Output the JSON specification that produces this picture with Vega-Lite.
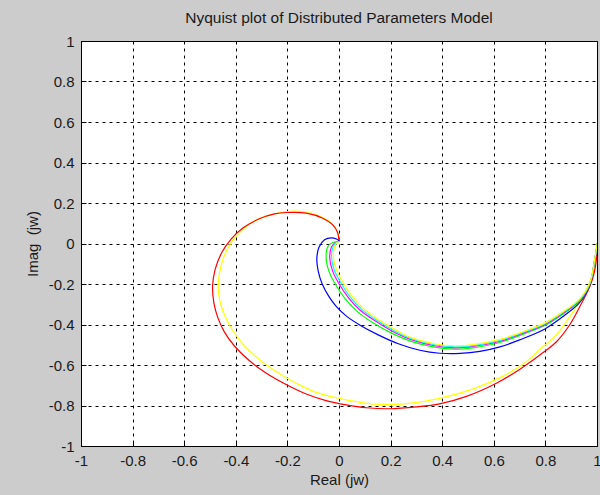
{
  "$schema": "https://vega.github.io/schema/vega-lite/v6.json",
  "width": 516,
  "height": 405,
  "autosize": {"type": "none"},
  "padding": {"left": 81, "top": 41, "right": 3, "bottom": 49},
  "background": "#cccccc",
  "title": {"text": "Nyquist plot of Distributed Parameters Model", "fontSize": 15.5, "fontWeight": "normal", "font": "Liberation Sans", "color": "#1a1a1a", "offset": 8},
  "config": {
    "view": {"fill": "white", "stroke": "black", "strokeWidth": 1},
    "axis": {
      "labelFont": "Liberation Sans", "labelFontSize": 15, "labelColor": "#1a1a1a", "labelFlush": false,
      "titleFont": "Liberation Sans", "titleFontSize": 15, "titleFontWeight": "normal", "titleColor": "#1a1a1a",
      "domainColor": "black", "tickColor": "black", "tickSize": -5, "labelPadding": 12,
      "gridColor": "black", "gridDash": [3, 4], "gridOpacity": 1, "gridWidth": 1
    }
  },
  "data": {"values": [
{"s":"yellow","i":0,"x":1,"y":0},{"s":"yellow","i":1,"x":0.999,"y":-0.05},{"s":"yellow","i":2,"x":0.99,"y":-0.12},{"s":"yellow","i":3,"x":0.975,"y":-0.18},{"s":"yellow","i":4,"x":0.947,"y":-0.26},{"s":"yellow","i":5,"x":0.895,"y":-0.36},{"s":"yellow","i":6,"x":0.843,"y":-0.45},{"s":"yellow","i":7,"x":0.79,"y":-0.51},{"s":"yellow","i":8,"x":0.714,"y":-0.595},{"s":"yellow","i":9,"x":0.636,"y":-0.655},{"s":"yellow","i":10,"x":0.52,"y":-0.718},{"s":"yellow","i":11,"x":0.39,"y":-0.765},{"s":"yellow","i":12,"x":0.28,"y":-0.788},{"s":"yellow","i":13,"x":0.157,"y":-0.795},{"s":"yellow","i":14,"x":0.028,"y":-0.772},{"s":"yellow","i":15,"x":-0.089,"y":-0.735},{"s":"yellow","i":16,"x":-0.166,"y":-0.69},{"s":"yellow","i":17,"x":-0.244,"y":-0.632},{"s":"yellow","i":18,"x":-0.309,"y":-0.573},{"s":"yellow","i":19,"x":-0.374,"y":-0.495},{"s":"yellow","i":20,"x":-0.419,"y":-0.415},{"s":"yellow","i":21,"x":-0.451,"y":-0.33},{"s":"yellow","i":22,"x":-0.467,"y":-0.245},{"s":"yellow","i":23,"x":-0.465,"y":-0.16},{"s":"yellow","i":24,"x":-0.448,"y":-0.07},{"s":"yellow","i":25,"x":-0.412,"y":0.015},{"s":"yellow","i":26,"x":-0.348,"y":0.095},{"s":"yellow","i":27,"x":-0.283,"y":0.135},{"s":"yellow","i":28,"x":-0.2,"y":0.158},{"s":"yellow","i":29,"x":-0.13,"y":0.155},{"s":"yellow","i":30,"x":-0.076,"y":0.135},{"s":"yellow","i":31,"x":-0.03,"y":0.1},{"s":"yellow","i":32,"x":-0.005,"y":0.055},{"s":"yellow","i":33,"x":0,"y":0.005},
{"s":"red","i":0,"x":1,"y":0},{"s":"red","i":1,"x":0.999,"y":-0.063},{"s":"red","i":2,"x":0.99,"y":-0.14},{"s":"red","i":3,"x":0.973,"y":-0.21},{"s":"red","i":4,"x":0.934,"y":-0.31},{"s":"red","i":5,"x":0.895,"y":-0.4},{"s":"red","i":6,"x":0.843,"y":-0.485},{"s":"red","i":7,"x":0.79,"y":-0.54},{"s":"red","i":8,"x":0.7,"y":-0.622},{"s":"red","i":9,"x":0.61,"y":-0.69},{"s":"red","i":10,"x":0.494,"y":-0.755},{"s":"red","i":11,"x":0.39,"y":-0.792},{"s":"red","i":12,"x":0.3,"y":-0.807},{"s":"red","i":13,"x":0.196,"y":-0.816},{"s":"red","i":14,"x":0.106,"y":-0.811},{"s":"red","i":15,"x":0.028,"y":-0.797},{"s":"red","i":16,"x":-0.05,"y":-0.776},{"s":"red","i":17,"x":-0.127,"y":-0.743},{"s":"red","i":18,"x":-0.205,"y":-0.696},{"s":"red","i":19,"x":-0.283,"y":-0.639},{"s":"red","i":20,"x":-0.348,"y":-0.578},{"s":"red","i":21,"x":-0.406,"y":-0.505},{"s":"red","i":22,"x":-0.445,"y":-0.435},{"s":"red","i":23,"x":-0.47,"y":-0.365},{"s":"red","i":24,"x":-0.485,"y":-0.293},{"s":"red","i":25,"x":-0.49,"y":-0.211},{"s":"red","i":26,"x":-0.48,"y":-0.128},{"s":"red","i":27,"x":-0.455,"y":-0.046},{"s":"red","i":28,"x":-0.419,"y":0.02},{"s":"red","i":29,"x":-0.374,"y":0.075},{"s":"red","i":30,"x":-0.309,"y":0.122},{"s":"red","i":31,"x":-0.25,"y":0.146},{"s":"red","i":32,"x":-0.205,"y":0.153},{"s":"red","i":33,"x":-0.127,"y":0.15},{"s":"red","i":34,"x":-0.063,"y":0.125},{"s":"red","i":35,"x":-0.024,"y":0.092},{"s":"red","i":36,"x":-0.005,"y":0.053},{"s":"red","i":37,"x":0,"y":0.011},
{"s":"blue","i":0,"x":1,"y":0},{"s":"blue","i":1,"x":0.999,"y":-0.02},{"s":"blue","i":2,"x":0.99,"y":-0.09},{"s":"blue","i":3,"x":0.973,"y":-0.2},{"s":"blue","i":4,"x":0.934,"y":-0.29},{"s":"blue","i":5,"x":0.869,"y":-0.36},{"s":"blue","i":6,"x":0.798,"y":-0.422},{"s":"blue","i":7,"x":0.7,"y":-0.476},{"s":"blue","i":8,"x":0.62,"y":-0.512},{"s":"blue","i":9,"x":0.546,"y":-0.533},{"s":"blue","i":10,"x":0.47,"y":-0.543},{"s":"blue","i":11,"x":0.39,"y":-0.542},{"s":"blue","i":12,"x":0.313,"y":-0.527},{"s":"blue","i":13,"x":0.23,"y":-0.495},{"s":"blue","i":14,"x":0.15,"y":-0.45},{"s":"blue","i":15,"x":0.08,"y":-0.402},{"s":"blue","i":16,"x":0.03,"y":-0.36},{"s":"blue","i":17,"x":-0.01,"y":-0.312},{"s":"blue","i":18,"x":-0.04,"y":-0.26},{"s":"blue","i":19,"x":-0.065,"y":-0.2},{"s":"blue","i":20,"x":-0.08,"y":-0.14},{"s":"blue","i":21,"x":-0.086,"y":-0.079},{"s":"blue","i":22,"x":-0.078,"y":-0.02},{"s":"blue","i":23,"x":-0.056,"y":0.018},{"s":"blue","i":24,"x":-0.03,"y":0.028},{"s":"blue","i":25,"x":-0.01,"y":0.022},{"s":"blue","i":26,"x":0.002,"y":0.011},
{"s":"green","i":0,"x":1,"y":0},{"s":"green","i":1,"x":0.999,"y":-0.02},{"s":"green","i":2,"x":0.99,"y":-0.09},{"s":"green","i":3,"x":0.973,"y":-0.198},{"s":"green","i":4,"x":0.934,"y":-0.283},{"s":"green","i":5,"x":0.869,"y":-0.348},{"s":"green","i":6,"x":0.798,"y":-0.405},{"s":"green","i":7,"x":0.72,"y":-0.445},{"s":"green","i":8,"x":0.62,"y":-0.49},{"s":"green","i":9,"x":0.52,"y":-0.515},{"s":"green","i":10,"x":0.45,"y":-0.522},{"s":"green","i":11,"x":0.37,"y":-0.512},{"s":"green","i":12,"x":0.28,"y":-0.483},{"s":"green","i":13,"x":0.2,"y":-0.44},{"s":"green","i":14,"x":0.13,"y":-0.39},{"s":"green","i":15,"x":0.07,"y":-0.335},{"s":"green","i":16,"x":0.025,"y":-0.275},{"s":"green","i":17,"x":-0.01,"y":-0.21},{"s":"green","i":18,"x":-0.038,"y":-0.14},{"s":"green","i":19,"x":-0.05,"y":-0.07},{"s":"green","i":20,"x":-0.043,"y":-0.015},{"s":"green","i":21,"x":-0.024,"y":0.005},{"s":"green","i":22,"x":0,"y":0.008},
{"s":"magenta","i":0,"x":1,"y":0},{"s":"magenta","i":1,"x":0.999,"y":-0.018},{"s":"magenta","i":2,"x":0.99,"y":-0.088},{"s":"magenta","i":3,"x":0.973,"y":-0.195},{"s":"magenta","i":4,"x":0.934,"y":-0.279},{"s":"magenta","i":5,"x":0.869,"y":-0.343},{"s":"magenta","i":6,"x":0.798,"y":-0.4},{"s":"magenta","i":7,"x":0.72,"y":-0.44},{"s":"magenta","i":8,"x":0.62,"y":-0.484},{"s":"magenta","i":9,"x":0.52,"y":-0.508},{"s":"magenta","i":10,"x":0.45,"y":-0.515},{"s":"magenta","i":11,"x":0.37,"y":-0.505},{"s":"magenta","i":12,"x":0.28,"y":-0.475},{"s":"magenta","i":13,"x":0.205,"y":-0.432},{"s":"magenta","i":14,"x":0.14,"y":-0.382},{"s":"magenta","i":15,"x":0.08,"y":-0.327},{"s":"magenta","i":16,"x":0.037,"y":-0.268},{"s":"magenta","i":17,"x":0.003,"y":-0.205},{"s":"magenta","i":18,"x":-0.025,"y":-0.135},{"s":"magenta","i":19,"x":-0.036,"y":-0.07},{"s":"magenta","i":20,"x":-0.03,"y":-0.02},{"s":"magenta","i":21,"x":-0.015,"y":0.004},{"s":"magenta","i":22,"x":0,"y":0.008},
{"s":"cyan","i":0,"x":1,"y":0},{"s":"cyan","i":1,"x":0.999,"y":-0.017},{"s":"cyan","i":2,"x":0.99,"y":-0.087},{"s":"cyan","i":3,"x":0.973,"y":-0.193},{"s":"cyan","i":4,"x":0.934,"y":-0.276},{"s":"cyan","i":5,"x":0.869,"y":-0.34},{"s":"cyan","i":6,"x":0.798,"y":-0.396},{"s":"cyan","i":7,"x":0.72,"y":-0.436},{"s":"cyan","i":8,"x":0.62,"y":-0.48},{"s":"cyan","i":9,"x":0.52,"y":-0.504},{"s":"cyan","i":10,"x":0.45,"y":-0.51},{"s":"cyan","i":11,"x":0.37,"y":-0.5},{"s":"cyan","i":12,"x":0.28,"y":-0.47},{"s":"cyan","i":13,"x":0.21,"y":-0.428},{"s":"cyan","i":14,"x":0.145,"y":-0.378},{"s":"cyan","i":15,"x":0.086,"y":-0.323},{"s":"cyan","i":16,"x":0.043,"y":-0.264},{"s":"cyan","i":17,"x":0.01,"y":-0.2},{"s":"cyan","i":18,"x":-0.018,"y":-0.132},{"s":"cyan","i":19,"x":-0.029,"y":-0.068},{"s":"cyan","i":20,"x":-0.024,"y":-0.02},{"s":"cyan","i":21,"x":-0.012,"y":0.004},{"s":"cyan","i":22,"x":0,"y":0.008},
{"s":"yellow2","i":0,"x":1,"y":0},{"s":"yellow2","i":1,"x":0.999,"y":-0.016},{"s":"yellow2","i":2,"x":0.99,"y":-0.085},{"s":"yellow2","i":3,"x":0.973,"y":-0.19},{"s":"yellow2","i":4,"x":0.934,"y":-0.272},{"s":"yellow2","i":5,"x":0.869,"y":-0.336},{"s":"yellow2","i":6,"x":0.798,"y":-0.392},{"s":"yellow2","i":7,"x":0.72,"y":-0.432},{"s":"yellow2","i":8,"x":0.62,"y":-0.475},{"s":"yellow2","i":9,"x":0.52,"y":-0.499},{"s":"yellow2","i":10,"x":0.45,"y":-0.505},{"s":"yellow2","i":11,"x":0.37,"y":-0.495},{"s":"yellow2","i":12,"x":0.28,"y":-0.465},{"s":"yellow2","i":13,"x":0.215,"y":-0.424},{"s":"yellow2","i":14,"x":0.15,"y":-0.374},{"s":"yellow2","i":15,"x":0.092,"y":-0.318},{"s":"yellow2","i":16,"x":0.05,"y":-0.259},{"s":"yellow2","i":17,"x":0.017,"y":-0.195},{"s":"yellow2","i":18,"x":-0.01,"y":-0.128},{"s":"yellow2","i":19,"x":-0.022,"y":-0.066},{"s":"yellow2","i":20,"x":-0.018,"y":-0.02},{"s":"yellow2","i":21,"x":-0.008,"y":0.004},{"s":"yellow2","i":22,"x":0,"y":0.008}
  ]},
  "mark": {"type": "line", "strokeWidth": 1.2, "clip": true, "interpolate": "catmull-rom"},
  "encoding": {
    "x": {"field": "x", "type": "quantitative", "title": "Real (jw)",
      "scale": {"domain": [-1, 1], "nice": false},
      "axis": {"values": [-1, -0.8, -0.6, -0.4, -0.2, 0, 0.2, 0.4, 0.6, 0.8, 1], "labelExpr": "'' + datum.value", "titlePadding": 4}},
    "y": {"field": "y", "type": "quantitative", "title": "Imag \u00a0(jw)",
      "scale": {"domain": [-1, 1], "nice": false},
      "axis": {"values": [-1, -0.8, -0.6, -0.4, -0.2, 0, 0.2, 0.4, 0.6, 0.8, 1], "labelExpr": "'' + datum.value", "titlePadding": 8}},
    "color": {"field": "s", "type": "nominal", "legend": null,
      "scale": {"domain": ["yellow", "red", "blue", "green", "magenta", "cyan", "yellow2"],
                "range": ["#ffff00", "#ff0000", "#0000ff", "#00ff00", "#ff00ff", "#00ffff", "#ffff00"]}},
    "order": {"field": "i", "type": "quantitative"}
  }
}
